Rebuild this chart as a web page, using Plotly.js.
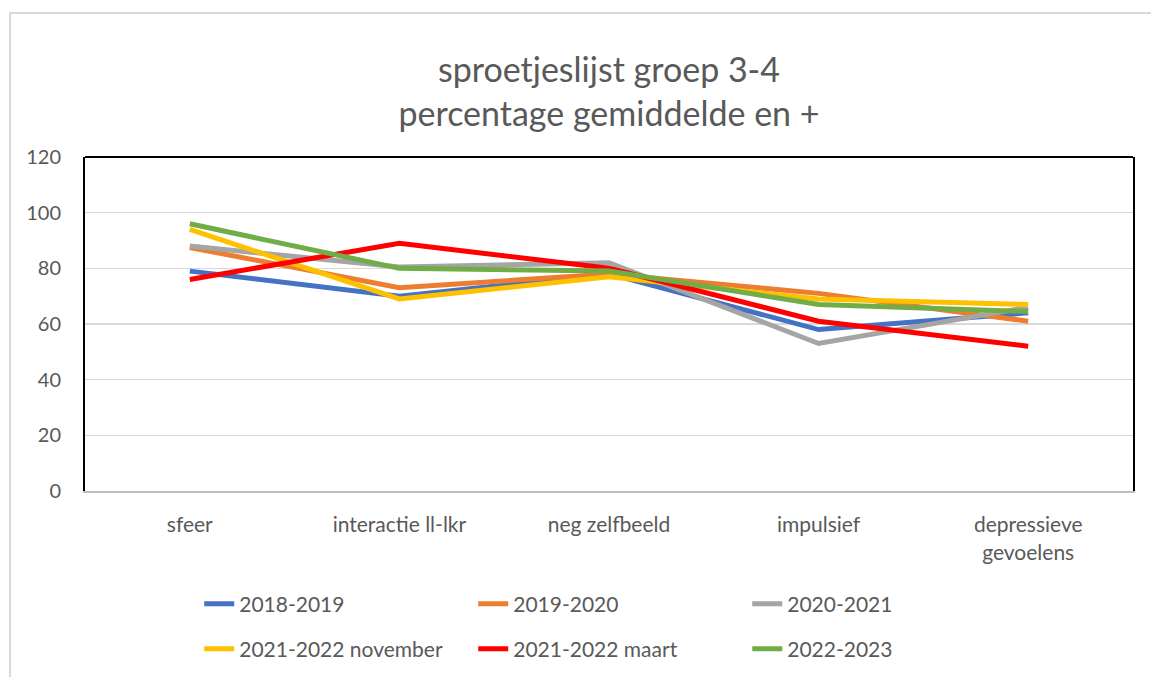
<!DOCTYPE html>
<html>
<head>
<meta charset="utf-8">
<script src="https://cdn.plot.ly/plotly-3.0.1.min.js"></script>
<style>
  html, body { margin: 0; padding: 0; background: #ffffff; }
  #frame { position: absolute; left: 9px; top: 12px; width: 1200px; height: 720px;
           border-left: 2px solid #d9d9d9; border-top: 2px solid #d9d9d9; box-sizing: border-box; }
  #chart { position: absolute; left: 0; top: 0; width: 1151px; height: 677px; }
</style>
</head>
<body>
<div id="frame"></div>
<div id="chart"></div>
<script>
const categories = ["sfeer", "interactie ll-lkr", "neg zelfbeeld", "impulsief", "depressieve<br>gevoelens"];
const seriesNames = ["2018-2019", "2019-2020", "2020-2021", "2021-2022 november", "2021-2022 maart", "2022-2023"];
const s2018 = [79, 70, 78, 58, 64];
const s2019 = [87.5, 73, 78, 71, 61];
const s2020 = [88, 80.5, 82, 53, 66];
const s2021nov = [94, 69, 77, 69, 67];
const s2021maart = [76, 89, 80, 61, 52];
const s2022 = [96, 80, 79, 67, 64.5];
const colors = ["#4472C4", "#ED7D31", "#A5A5A5", "#FFC000", "#FF0000", "#70AD47"];
const allSeries = [s2018, s2019, s2020, s2021nov, s2021maart, s2022];

const fontFam = "Lato, 'Open Sans', sans-serif";
const traces = allSeries.map((vals, i) => ({
  type: "scatter",
  mode: "lines",
  x: categories,
  y: vals,
  name: seriesNames[i],
  legend: i < 3 ? "legend" : "legend2",
  line: { color: colors[i], width: 5 },
  hoverinfo: "skip"
}));

const legendBase = {
  orientation: "h",
  xanchor: "left",
  yanchor: "middle",
  entrywidth: 229,
  entrywidthmode: "pixels",
  font: { size: 21, color: "#595959", family: fontFam },
  bgcolor: "rgba(0,0,0,0)",
  borderwidth: 0
};

const plotTop = 157, plotBottom = 491, H = 677;
function paperY(px) { return (plotBottom - px) / (plotBottom - plotTop); }

const layout = {
  width: 1151,
  height: 677,
  paper_bgcolor: "rgba(0,0,0,0)",
  plot_bgcolor: "#ffffff",
  margin: { l: 85, r: 18, t: 157, b: 186, autoexpand: false },
  font: { family: fontFam, color: "#595959", size: 20 },
  title: {
    text: "sproetjeslijst groep 3-4<br>percentage gemiddelde en +",
    font: { family: fontFam, size: 34, color: "#595959" },
    x: 0.5, xref: "paper", xanchor: "center",
    y: 1 - 82 / H, yref: "container", yanchor: "top"
  },
  xaxis: {
    type: "category",
    range: [-0.5, 4.5],
    showgrid: false,
    zeroline: false,
    showline: true,
    linecolor: "#bfbfbf",
    linewidth: 2,
    ticks: "outside",
    ticklen: 14,
    tickcolor: "rgba(0,0,0,0)",
    tickfont: { size: 21, color: "#595959" },
    fixedrange: true
  },
  yaxis: {
    range: [0, 120],
    dtick: 20,
    showgrid: true,
    gridcolor: "#d9d9d9",
    gridwidth: 1.5,
    zeroline: false,
    showline: true,
    linecolor: "#000000",
    linewidth: 2,
    mirror: true,
    ticks: "outside",
    ticklen: 18,
    tickcolor: "rgba(0,0,0,0)",
    tickfont: { size: 20, color: "#595959" },
    fixedrange: true
  },
  shapes: [
    { type: "line", xref: "paper", yref: "paper", x0: 0, x1: 1, y0: 1, y1: 1,
      line: { color: "#000000", width: 2 } }
  ],
  showlegend: true,
  legend: Object.assign({}, legendBase, { x: 0.109, y: paperY(604) }),
  legend2: Object.assign({}, legendBase, { x: 0.109, y: paperY(649) })
};

Plotly.newPlot("chart", traces, layout, { displayModeBar: false, staticPlot: true });
</script>
</body>
</html>
